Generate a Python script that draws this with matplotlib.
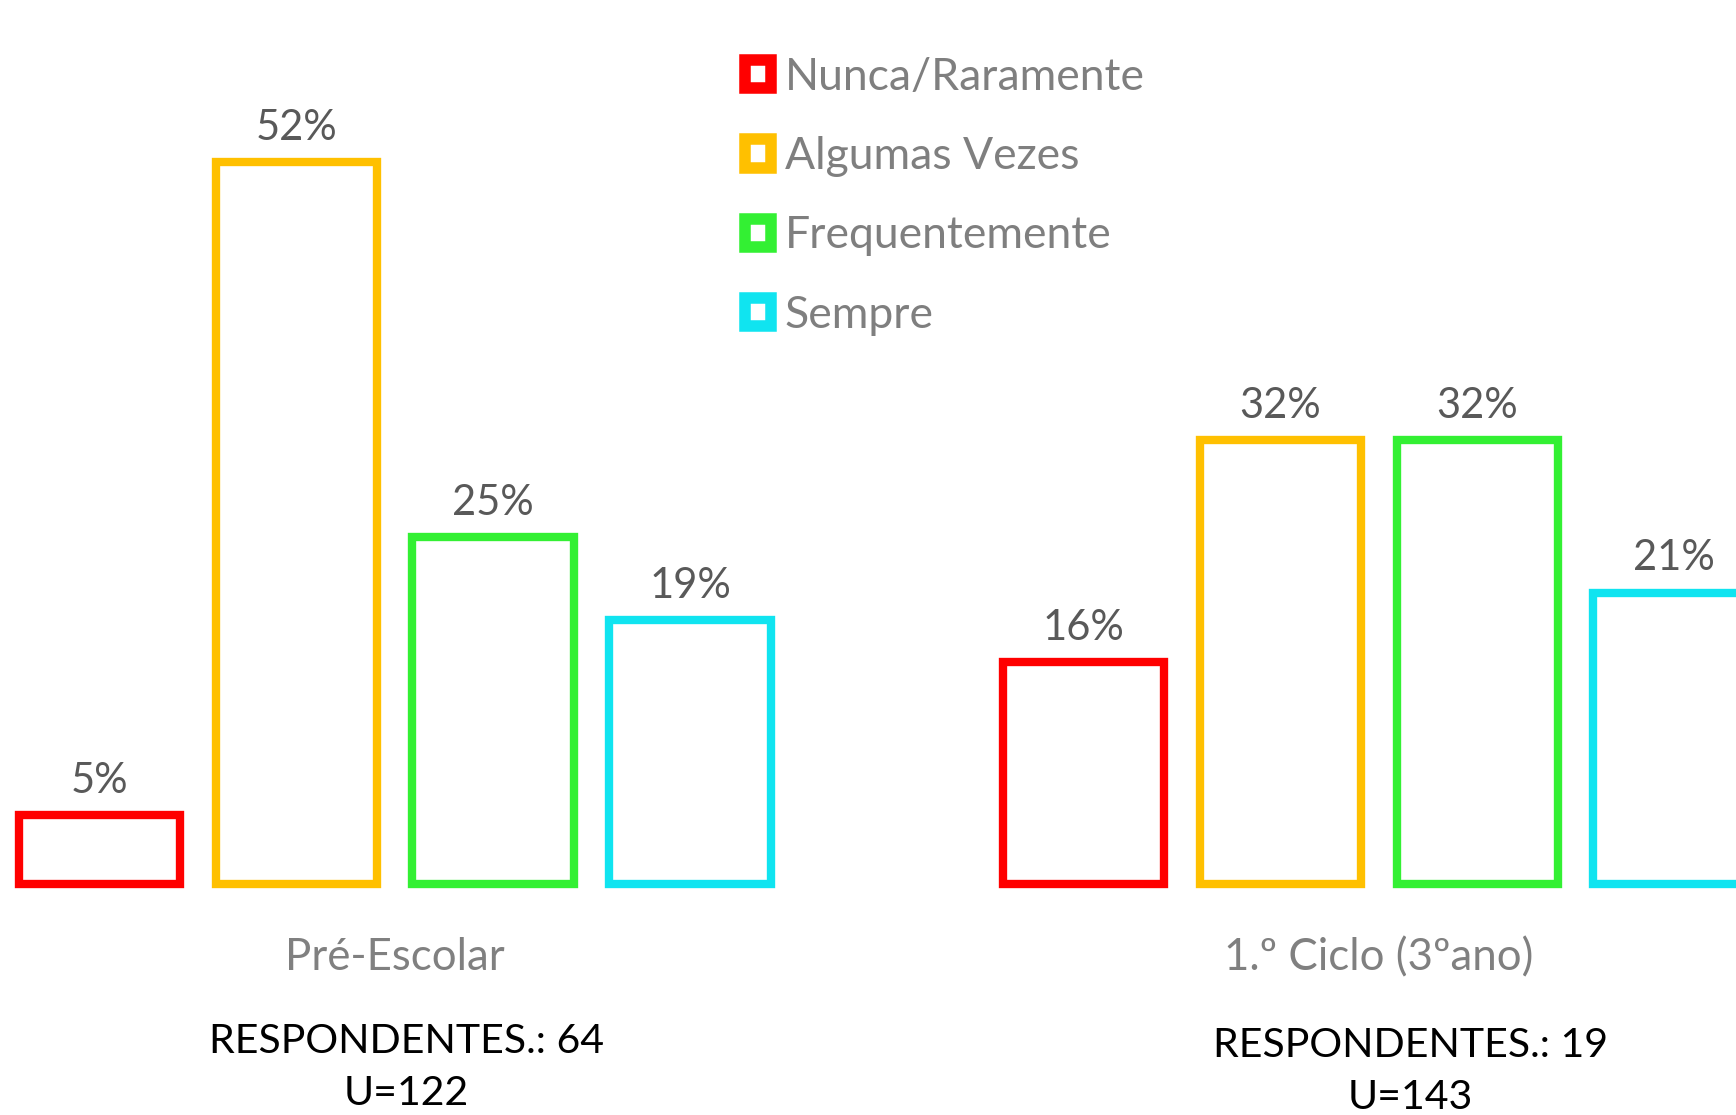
import matplotlib
matplotlib.use("Agg")
import matplotlib.pyplot as plt
from matplotlib.patches import Patch
from matplotlib.transforms import blended_transform_factory

plt.rcParams["font.family"] = ["Lato", "DejaVu Sans"]

groups = ["Pré-Escolar", "1.º Ciclo (3ºano)"]
series = ["Nunca/Raramente", "Algumas Vezes", "Frequentemente", "Sempre"]
colors = ["#FF0000", "#FFC000", "#33F033", "#10E4F0"]
pre_escolar = [5, 52, 25, 19]
ciclo_1 = [16, 32, 32, 21]
respondentes = [64, 19]
u_values = [122, 143]

values = [pre_escolar, ciclo_1]
group_start = [0, 5]

fig = plt.figure(figsize=(17.36, 11.15), dpi=100)
ax = fig.add_axes([0, 0.207, 1, 0.747])

for g, vals in enumerate(values):
    for i, v in enumerate(vals):
        x = group_start[g] + i
        ax.bar(x, v, width=0.82, facecolor="white", edgecolor=colors[i],
               linewidth=6.0, clip_on=False)
        ax.annotate(f"{v}%", (x, v), xytext=(0, 16), textcoords="offset points",
                    ha="center", va="baseline", fontsize=30, color="#595959")

ax.set_xlim(-0.506, 8.315)
ax.set_ylim(0, 60)
centers = [s + 1.5 for s in group_start]
ax.set_xticks(centers)
ax.set_xticklabels(groups, fontsize=31.5, color="#808080")
ax.tick_params(axis="x", length=0, pad=38)
ax.set_yticks([])
for sp in ax.spines.values():
    sp.set_visible(False)

trans = blended_transform_factory(ax.transData, ax.transAxes)
resp_x = [1.56, 6.66]
resp_dy = [0, -0.005]
for g in range(2):
    ax.text(resp_x[g], -0.203 + resp_dy[g], f"RESPONDENTES.: {respondentes[g]}",
            transform=trans, ha="center", va="baseline", fontsize=29.5, color="black")
    ax.text(resp_x[g], -0.265 + resp_dy[g], f"U={u_values[g]}",
            transform=trans, ha="center", va="baseline", fontsize=29.5, color="black")

handles = [Patch(facecolor="white", edgecolor=c, linewidth=8.3) for c in colors]
fig.legend(handles, series, loc="upper left", bbox_to_anchor=(0.429, 0.949),
           frameon=False, fontsize=32, labelcolor="#7F7F7F",
           handlelength=0.6, handleheight=0.6, handletextpad=0.3,
           labelspacing=0.86, borderpad=0, borderaxespad=0)

fig.savefig("out.png", dpi=100)
